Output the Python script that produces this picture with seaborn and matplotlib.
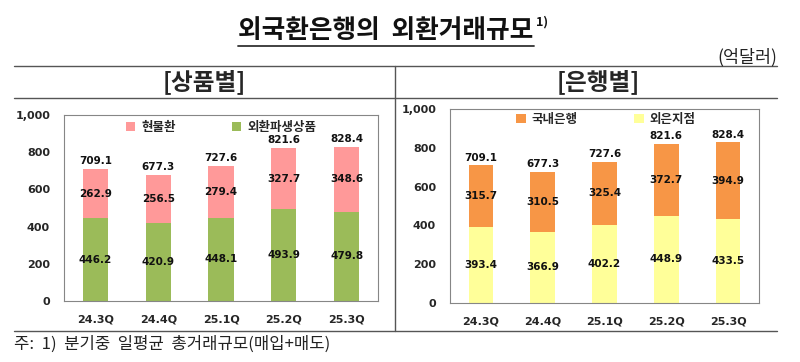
import matplotlib
matplotlib.use("Agg")
import matplotlib.pyplot as plt
import seaborn as sns
import pandas as pd
from matplotlib.lines import Line2D
from matplotlib.ticker import FuncFormatter

# --- data (억달러) ---
quarters = ["24.3Q", "24.4Q", "25.1Q", "25.2Q", "25.3Q"]
totals = [709.1, 677.3, 727.6, 821.6, 828.4]
spot = [262.9, 256.5, 279.4, 327.7, 348.6]          # 현물환
derivatives = [446.2, 420.9, 448.1, 493.9, 479.8]   # 외환파생상품
domestic = [315.7, 310.5, 325.4, 372.7, 394.9]      # 국내은행
foreign = [393.4, 366.9, 402.2, 448.9, 433.5]       # 외은지점

W, H = 800, 362
FRAME = "#868686"
KFONT = ["Noto Sans CJK KR", "DejaVu Sans"]

sns.set_style("white")
plt.rcParams["font.family"] = KFONT


def px(x, y):
    # pixel position of the reference -> figure fraction
    return x / W, 1 - y / H


def hline(fig, x0, x1, y, lw=1.0):
    (a, b), (c, _) = px(x0, y), px(x1, y)
    fig.add_artist(Line2D([a, c], [b, b], color="#555555", lw=lw))


def vline(fig, x, y0, y1, lw=1.0):
    (a, b), (_, d) = px(x, y0), px(x, y1)
    fig.add_artist(Line2D([a, a], [b, d], color="#555555", lw=lw))


def draw_panel(ax, lower, upper, top_name, low_name, top_color, low_color, leg_xy):
    df = pd.DataFrame({"q": quarters, "total": totals, "lower": lower, "upper": upper})
    sns.barplot(data=df, x="q", y="total", color=top_color, width=0.4, saturation=1,
                linewidth=0, errorbar=None, ax=ax, label=top_name)
    sns.barplot(data=df, x="q", y="lower", color=low_color, width=0.4, saturation=1,
                linewidth=0, errorbar=None, ax=ax, label=low_name)

    num = dict(fontsize=7.5, fontweight="bold", family="DejaVu Sans", color="#111111")
    ax.bar_label(ax.containers[0], labels=[f"{v:.1f}" for v in totals], padding=2, **num)
    ax.bar_label(ax.containers[1], labels=[f"{v:.1f}" for v in lower], label_type="center", **num)
    for i, (lo, up) in enumerate(zip(lower, upper)):
        ax.text(i, lo + up / 2, f"{up:.1f}", ha="center", va="center", **num)

    ax.set_ylim(0, 1000)
    ax.set_xlim(-0.5, 4.5)
    ax.set_yticks(range(0, 1001, 200))
    ax.yaxis.set_major_formatter(FuncFormatter(lambda v, _: f"{int(v):,}"))
    ax.set_xlabel("")
    ax.set_ylabel("")
    ax.tick_params(length=0, labelsize=8)
    ax.tick_params(axis="y", pad=10)
    ax.tick_params(axis="x", pad=10)
    for lab in ax.get_xticklabels() + ax.get_yticklabels():
        lab.set_fontweight("bold")
        lab.set_family("DejaVu Sans")
    for s in ax.spines.values():
        s.set_visible(True)
        s.set_color(FRAME)
        s.set_linewidth(0.8)

    ax.legend(loc="center", bbox_to_anchor=leg_xy, ncol=2, frameon=False,
              handlelength=0.75, handleheight=0.75, handletextpad=0.5,
              columnspacing=4.5, prop={"family": KFONT, "weight": "bold", "size": 9})


fig = plt.figure(figsize=(8, 3.62), dpi=100)

ax1 = fig.add_axes([64 / W, 1 - 301 / H, 314 / W, 186 / H])
ax2 = fig.add_axes([450 / W, 1 - 303 / H, 309 / W, 194 / H])

draw_panel(ax1, derivatives, spot, "현물환", "외환파생상품", "#FF9999", "#9BBB59", (0.5, 0.935))
draw_panel(ax2, foreign, domestic, "국내은행", "외은지점", "#F79646", "#FFFF99", (0.505, 0.948))

# --- title with underline and footnote mark ---
title = fig.text(*px(386, 30), "외국환은행의  외환거래규모", ha="center", va="center",
                 fontsize=18.5, fontweight="bold", color="#111111")
fig.canvas.draw()
bb = title.get_window_extent().transformed(fig.transFigure.inverted())
fig.add_artist(Line2D([bb.x0, bb.x1], [px(0, 46)[1]] * 2, color="#333333", lw=1.3))
fig.text(bb.x1 + 0.003, px(0, 22)[1], "1)", ha="left", va="center", fontsize=9,
         fontweight="bold", color="#111111")

fig.text(*px(777, 57), "(억달러)", ha="right", va="center", fontsize=12.5, color="#222222")

# --- table frame ---
hline(fig, 14, 777, 66)
hline(fig, 14, 777, 98)
hline(fig, 14, 777, 331)
vline(fig, 395, 66, 331)

fig.text(*px(204, 82), "[상품별]", ha="center", va="center", fontsize=17, fontweight="bold")
fig.text(*px(598, 82), "[은행별]", ha="center", va="center", fontsize=17, fontweight="bold")

fig.text(*px(14, 344), "주:  1)  분기중  일평균  총거래규모(매입+매도)", ha="left", va="center",
         fontsize=12, color="#222222")

fig.savefig("out.png", dpi=100)
